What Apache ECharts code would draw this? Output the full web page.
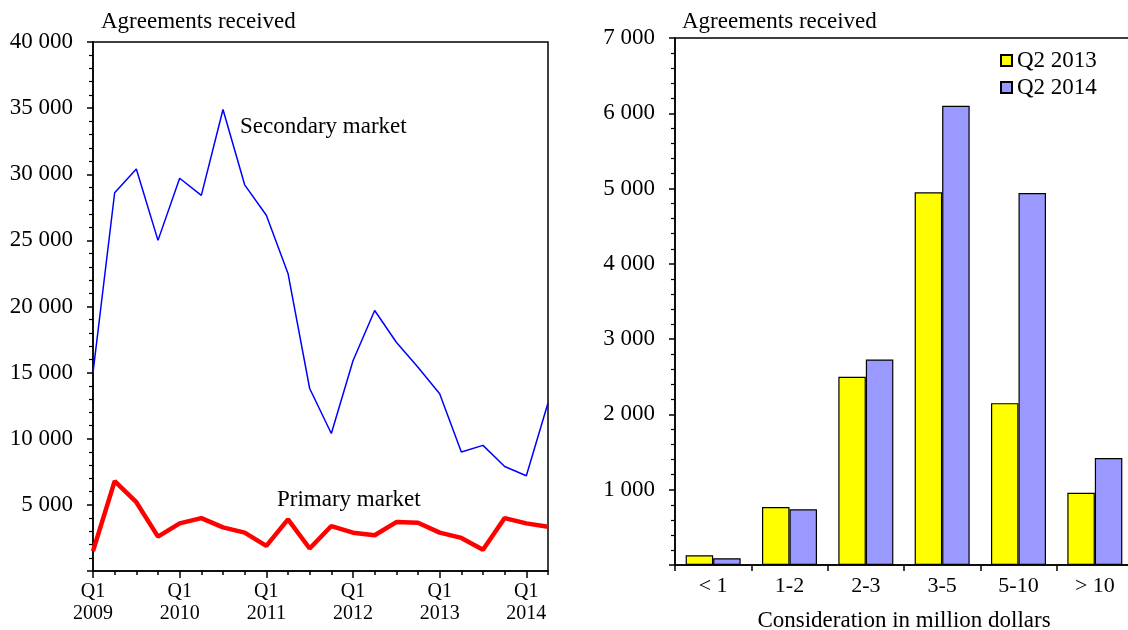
<!DOCTYPE html>
<html><head><meta charset="utf-8">
<script src="https://cdn.jsdelivr.net/npm/echarts@6/dist/echarts.min.js"></script>
<style>html,body{margin:0;padding:0;background:#fff}#c{width:1128px;height:630px}</style>
</head><body><div id="c"></div>
<script>
const quarters = [];
for (let y = 2009; y <= 2014; y++) for (let q = 1; q <= 4; q++) { if (y === 2014 && q > 2) break; quarters.push('Q' + q + ' ' + y); }
const secondaryMarket = [15000,28600,30400,25000,29700,28400,34900,29200,26900,22500,13800,10400,15900,19700,17300,15400,13400,9000,9500,7900,7200,12700];
const primaryMarket = [1500,6800,5200,2600,3600,4000,3300,2900,1900,3900,1700,3400,2900,2700,3700,3650,2900,2500,1600,4000,3600,3350];
const sizeClasses = ['< 1','1-2','2-3','3-5','5-10','> 10'];
const q2_2013 = [130,770,2500,4950,2150,960];
const q2_2014 = [90,740,2730,6100,4940,1420];
const leftTicks = {min:0, max:40000, interval:5000};
const rightTicks = {min:0, max:7000, interval:1000};

const FONT = 'Liberation Serif';
function fmt(v){ if (v === 0) return ''; if (v < 1000) return String(v); const r = v % 1000; return Math.floor(v/1000) + ' ' + String(r).padStart(3,'0'); }
const axisLineStyle = {color:'#000', width:1.5};

const chart = echarts.init(document.getElementById('c'), null, {renderer:'canvas'});
chart.setOption({
  animation:false,
  backgroundColor:'#fff',
  textStyle:{fontFamily:FONT, color:'#000'},
  title:[
    {text:'Agreements received', left:101, top:10, padding:0, textStyle:{fontFamily:FONT, fontSize:23, fontWeight:'normal', color:'#000', lineHeight:23}},
    {text:'Agreements received', left:682, top:10, padding:0, textStyle:{fontFamily:FONT, fontSize:23, fontWeight:'normal', color:'#000', lineHeight:23}}
  ],
  legend:{
    data:['Q2 2013','Q2 2014'], orient:'vertical', left:1000, top:49, padding:0,
    itemWidth:11, itemHeight:11, itemGap:4, icon:'rect',
    textStyle:{fontFamily:FONT, fontSize:23, color:'#000', lineHeight:23}
  },
  grid:[
    {left:93, top:42, width:455, height:529, show:true, borderColor:'#000', borderWidth:1.5, containLabel:false, outerBoundsMode:'none'},
    {left:675, top:38, width:458, height:527, show:true, borderColor:'#000', borderWidth:1.5, containLabel:false, outerBoundsMode:'none'}
  ],
  xAxis:[
    {gridIndex:0, type:'category', data:quarters, boundaryGap:false,
     axisLine:{lineStyle:axisLineStyle}, axisTick:{show:true, interval:0, length:4, lineStyle:{color:'#000', width:1.5}},
     axisLabel:{interval:3, margin:10, fontFamily:FONT, fontSize:20, color:'#000', lineHeight:22, formatter:v => v.replace(' ', '\n')},
     splitLine:{show:false}},
    {gridIndex:0, type:'category', data:quarters, boundaryGap:false, position:'bottom',
     axisLine:{show:false}, axisTick:{show:true, interval:3, length:7, lineStyle:{color:'#000', width:1.5}},
     axisLabel:{show:false}, splitLine:{show:false}},
    {gridIndex:1, type:'category', data:sizeClasses, boundaryGap:true,
     axisLine:{lineStyle:axisLineStyle}, axisTick:{show:true, length:6, lineStyle:{color:'#000', width:1.5}},
     axisLabel:{interval:0, margin:10, fontFamily:FONT, fontSize:22, color:'#000'},
     name:'Consideration in million dollars', nameLocation:'middle', nameGap:44,
     nameTextStyle:{fontFamily:FONT, fontSize:23, color:'#000'}, splitLine:{show:false}}
  ],
  yAxis:[
    {gridIndex:0, type:'value', min:leftTicks.min, max:leftTicks.max, interval:leftTicks.interval,
     axisLine:{show:true, lineStyle:axisLineStyle}, axisTick:{show:true, length:6, lineStyle:{color:'#000', width:1.5}},
     minorTick:{show:true, splitNumber:5, length:4, lineStyle:{color:'#000', width:1.2}},
     axisLabel:{margin:20, fontFamily:FONT, fontSize:23, color:'#000', formatter:fmt},
     splitLine:{show:false}},
    {gridIndex:1, type:'value', min:rightTicks.min, max:rightTicks.max, interval:rightTicks.interval,
     axisLine:{show:true, lineStyle:axisLineStyle}, axisTick:{show:true, length:6, lineStyle:{color:'#000', width:1.5}},
     minorTick:{show:true, splitNumber:5, length:4, lineStyle:{color:'#000', width:1.2}},
     axisLabel:{margin:20, fontFamily:FONT, fontSize:23, color:'#000', formatter:fmt},
     splitLine:{show:false}}
  ],
  series:[
    {name:'Secondary market', type:'line', xAxisIndex:0, yAxisIndex:0, data:secondaryMarket, symbol:'none',
     lineStyle:{color:'#0000ff', width:1.5}, itemStyle:{color:'#0000ff'}},
    {name:'Primary market', type:'line', xAxisIndex:0, yAxisIndex:0, data:primaryMarket, symbol:'none',
     lineStyle:{color:'#ff0000', width:4.5}, itemStyle:{color:'#ff0000'}},
    {name:'Q2 2013', type:'bar', xAxisIndex:2, yAxisIndex:1, data:q2_2013, barWidth:27.5, barGap:'0%',
     itemStyle:{color:'#ffff00', borderColor:'#000', borderWidth:1.2}},
    {name:'Q2 2014', type:'bar', xAxisIndex:2, yAxisIndex:1, data:q2_2014, barWidth:27.5, barGap:'0%',
     itemStyle:{color:'#9999ff', borderColor:'#000', borderWidth:1.2}}
  ],
  graphic:[
    {type:'text', left:240, top:115, style:{text:'Secondary market', font:'23px "Liberation Serif"', fill:'#000'}},
    {type:'text', left:277, top:488, style:{text:'Primary market', font:'23px "Liberation Serif"', fill:'#000'}}
  ]
});
</script></body></html>
